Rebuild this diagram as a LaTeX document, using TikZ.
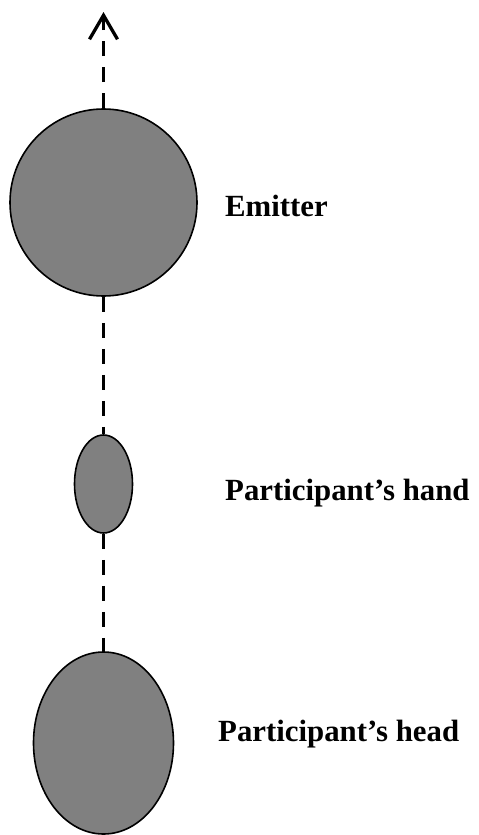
\documentclass[tikz,border=0pt]{standalone}
\usepackage{fontspec}
\setmainfont{Liberation Serif}
\usetikzlibrary{shapes.geometric,arrows.meta}
\begin{document}
\begin{tikzpicture}[x=1pt,y=-1pt,
  body/.style={draw=black,line width=1.6pt,fill=black!50,inner sep=0pt},
  conn/.style={line width=3.5pt,dash pattern=on 15pt off 11pt},
  lbl/.style={anchor=base west,inner sep=0pt,font=\fontsize{30.8}{36}\selectfont\bfseries}]
\useasboundingbox (0,0) rectangle (479,835);
\node[body,circle,minimum size=187pt] (emitter) at (103.5,202.5) {};
\node[body,ellipse,minimum width=58pt,minimum height=98pt] (hand) at (103.5,484) {};
\node[body,ellipse,minimum width=140pt,minimum height=182pt] (head) at (103.5,743) {};
\coordinate (tip) at (103.5,12);
\draw[conn,-{Straight Barb[length=24pt,width=28pt,line width=3.3pt]}] (emitter.north) -- (tip);
\draw[conn] (emitter.south) -- (hand.north);
\draw[conn] (hand.south) -- (head.north);
\node[lbl] (l1) at (225,216) {Emitter};
\node[lbl] (l2) at (225,500) {Participant’s hand};
\node[lbl] (l3) at (218,741) {Participant’s head};
\end{tikzpicture}
\end{document}
